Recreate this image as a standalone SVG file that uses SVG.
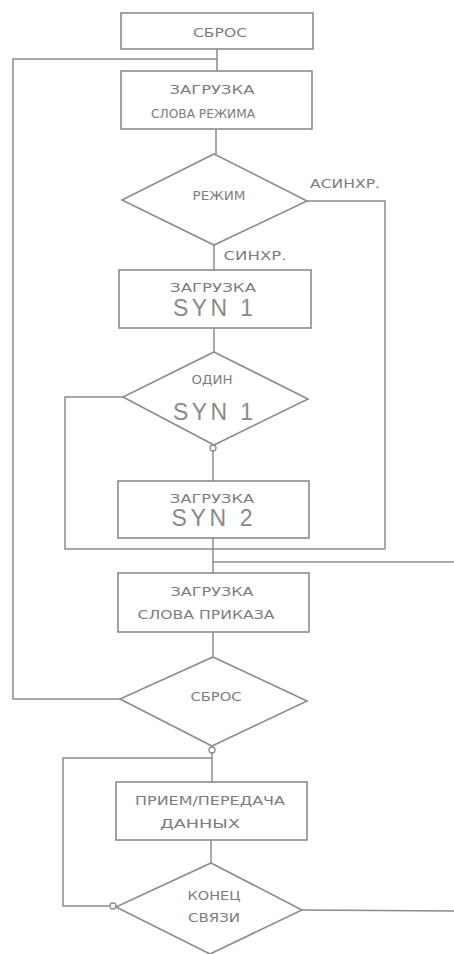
<svg xmlns="http://www.w3.org/2000/svg" width="454" height="954" viewBox="0 0 454 954">
<style>
.box{fill:none;stroke:#8c8c8c;stroke-width:1.6}
.ln{fill:none;stroke:#8c8c8c;stroke-width:1.5}
.t{font-family:"DejaVu Sans","Liberation Sans",sans-serif;font-size:12.5px;fill:#7c7c7c;text-anchor:middle}
.big{font-family:"Liberation Sans",Arial,sans-serif;font-size:23px;fill:#8a8a8a;text-anchor:middle}
.dot{fill:#fff;stroke:#8c8c8c;stroke-width:1.3}
</style>
<rect width="454" height="954" fill="#fff"/>
<g id="connectors">
<polyline class="ln" points="217,49 217,71"/>
<polyline class="ln" points="120,699 13,699 13,59 217,59"/>
<polyline class="ln" points="216,129 216,154"/>
<polyline class="ln" points="307,201 385,201 385,549"/>
<polyline class="ln" points="214,245 214,270"/>
<polyline class="ln" points="214,328 214,352"/>
<polyline class="ln" points="123,397 65,397 65,549 385,549"/>
<polyline class="ln" points="213,451 213,481"/>
<polyline class="ln" points="213,538 213,573"/>
<polyline class="ln" points="213,562 454,562"/>
<polyline class="ln" points="213,632 213,657"/>
<polyline class="ln" points="212,753 212,782"/>
<polyline class="ln" points="212,758 63,758 63,906 110,906"/>
<polyline class="ln" points="211,840 211,863"/>
<polyline class="ln" points="302,910 454,911"/>
<circle class="dot" cx="213" cy="448" r="3"/>
<circle class="dot" cx="212" cy="750" r="3"/>
<circle class="dot" cx="113" cy="906" r="3"/>
</g>
<g id="n1">
<rect class="box" x="121" y="13" width="192" height="36"/>
<text class="t" x="220" y="37" textLength="54" lengthAdjust="spacingAndGlyphs">СБРОС</text>
</g>
<g id="n2">
<rect class="box" x="121" y="71" width="191" height="58"/>
<text class="t" x="212" y="94" textLength="85" lengthAdjust="spacingAndGlyphs">ЗАГРУЗКА</text>
<text class="t" x="203" y="118" textLength="104" lengthAdjust="spacingAndGlyphs">СЛОВА РЕЖИМА</text>
</g>
<g id="n3">
<polygon class="box" points="214,154 307,201 214,245 122,200"/>
<text class="t" x="219" y="200" textLength="53" lengthAdjust="spacingAndGlyphs">РЕЖИМ</text>
<text class="t" x="345" y="188" textLength="70" lengthAdjust="spacingAndGlyphs">АСИНХР.</text>
<text class="t" x="255" y="260" textLength="63" lengthAdjust="spacingAndGlyphs">СИНХР.</text>
</g>
<g id="n4">
<rect class="box" x="119" y="270" width="192" height="58"/>
<text class="t" x="213" y="292" textLength="86" lengthAdjust="spacingAndGlyphs">ЗАГРУЗКА</text>
<text class="big" x="213" y="316" textLength="80" lengthAdjust="spacing">SYN 1</text>
</g>
<g id="n5">
<polygon class="box" points="214,352 308,399 214,445 123,397"/>
<text class="t" x="212" y="384" font-size="10.5" textLength="41" lengthAdjust="spacingAndGlyphs">ОДИН</text>
<text class="big" x="213" y="420" textLength="80" lengthAdjust="spacing">SYN 1</text>
</g>
<g id="n6">
<rect class="box" x="118" y="481" width="191" height="57"/>
<text class="t" x="212" y="503" textLength="84" lengthAdjust="spacingAndGlyphs">ЗАГРУЗКА</text>
<text class="big" x="212" y="526" textLength="81" lengthAdjust="spacing">SYN 2</text>
</g>
<g id="n7">
<rect class="box" x="118" y="573" width="191" height="59"/>
<text class="t" x="212" y="596" textLength="83" lengthAdjust="spacingAndGlyphs">ЗАГРУЗКА</text>
<text class="t" x="206" y="619" textLength="137" lengthAdjust="spacingAndGlyphs">СЛОВА ПРИКАЗА</text>
</g>
<g id="n8">
<polygon class="box" points="213,657 307,701 212,746 120,699"/>
<text class="t" x="216" y="701" textLength="51" lengthAdjust="spacingAndGlyphs">СБРОС</text>
</g>
<g id="n9">
<rect class="box" x="116" y="782" width="191" height="58"/>
<text class="t" x="210" y="805" textLength="150" lengthAdjust="spacingAndGlyphs">ПРИЕМ/ПЕРЕДАЧА</text>
<text class="t" x="200" y="828" textLength="80" lengthAdjust="spacingAndGlyphs">ДАННЫХ</text>
</g>
<g id="n10">
<polygon class="box" points="211,863 302,910 210,954 116,907"/>
<text class="t" x="214" y="900" textLength="53" lengthAdjust="spacingAndGlyphs">КОНЕЦ</text>
<text class="t" x="214" y="922" textLength="52" lengthAdjust="spacingAndGlyphs">СВЯЗИ</text>
</g>
</svg>
